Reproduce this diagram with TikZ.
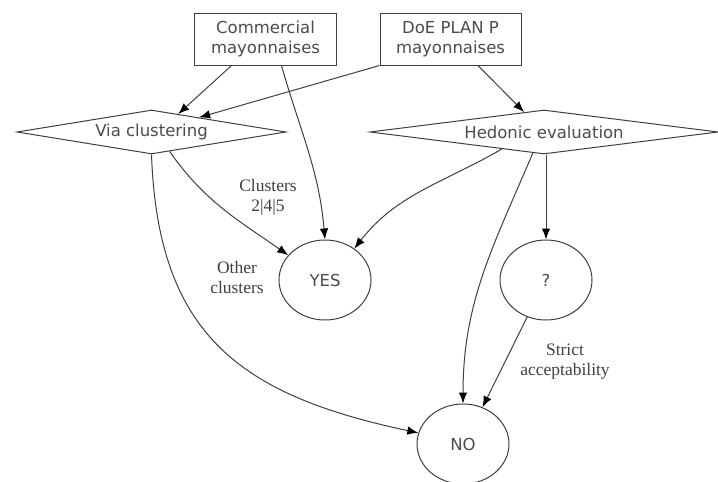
\documentclass[tikz,border=0pt]{standalone}
\usepackage{fontspec}
\setmainfont{Liberation Serif}
\newfontfamily\boxfont{DejaVu Sans}
\usetikzlibrary{shapes.geometric,arrows.meta}
\tikzset{
  lbl/.style={font=\boxfont\fontsize{16.5}{20}\selectfont, text=black!70, align=center},
  boxn/.style={draw=black!75, line width=1pt, rectangle, minimum width=142pt, minimum height=52pt, inner sep=0pt, lbl},
  dia/.style={draw=black!75, line width=1pt, diamond, aspect=8, inner sep=0pt, minimum height=44pt, lbl},
  circ/.style={draw=black!75, line width=1pt, ellipse, minimum width=92pt, minimum height=80pt, inner sep=0pt, lbl},
  edgelbl/.style={font=\fontsize{17.5}{20}\selectfont, text=black!75, align=center},
  arr/.style={draw=black!75, line width=1pt, -{Latex[length=11pt,width=8.5pt,fill=black,color=black]}},
}
\begin{document}
\begin{tikzpicture}[x=1pt,y=-1pt]
\useasboundingbox[fill=white] (0,0) rectangle (718,482);
% nodes
\node[boxn] (com) at (265.5,39) {Commercial\\mayonnaises};
\node[boxn, minimum width=141pt] (doe) at (450.5,39) {DoE PLAN P\\mayonnaises};
\node[dia, minimum width=269pt] (via) at (151.5,132) {Via clustering};
\node[dia, minimum width=348pt] (hed) at (544,132) {Hedonic evaluation};
\node[circ] (yes) at (325,280) {YES};
\node[circ] (q) at (546,280) {?};
\node[circ] (no) at (463,444) {NO};
% edge labels
\node[edgelbl] (l1) at (268,197) {Clusters\\2|4|5};
\node[edgelbl] (l2) at (237,278) {Other\\clusters};
\node[edgelbl] (l3) at (565,362) {Strict\\acceptability};
% connectors
\draw[arr] (com.-142) -- (via.34);
\draw[arr] (doe.south west) -- (via.17);
\draw[arr] (com.-59) to[out=-74,in=95] (yes.north);
\draw[arr] (doe.-44.5) -- (hed.135);
\draw[arr] (via.-47) to[out=-55,in=145] (yes.146);
\draw[arr] (via.south) .. controls (158,335) and (240,395) .. (no.166);
\draw[arr] (hed.-158) to[out=-150,in=52] (yes.47);
\draw[arr] (hed.-118) to[out=-113,in=90] (no.north);
\draw[arr] (hed.south -| q.north) -- (q.north);
\draw[arr] (q.-117) -- (no.62);
\end{tikzpicture}
\end{document}
